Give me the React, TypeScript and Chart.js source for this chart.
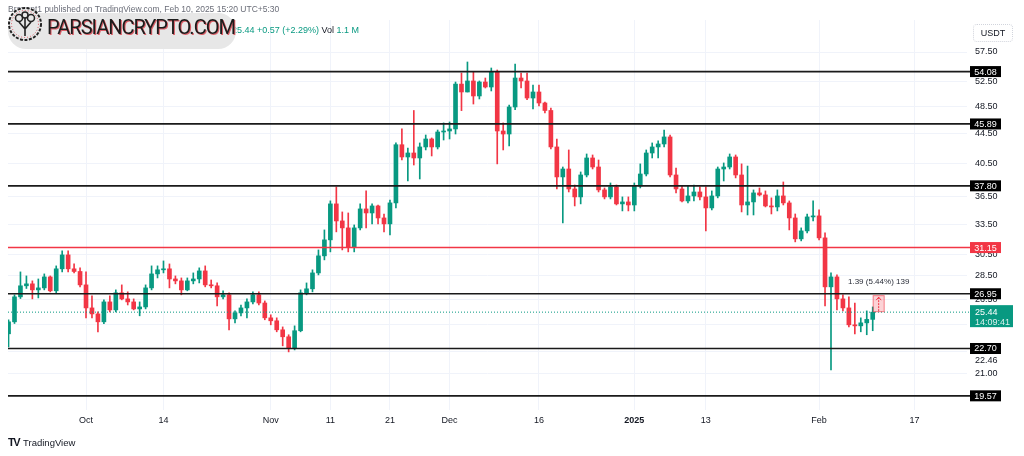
import React, { useEffect, useRef } from "react";
import { Chart, registerables } from "chart.js";

Chart.register(...registerables);

const GREEN = "#089981";
const RED = "#F23645";
const INK = "#131722";
const FONT = "'Liberation Sans', Arial, sans-serif";

// Daily AVAX/USDT candles. Day index relative to 2024-10-01; first candle is 2024-09-18.
const firstDay = -13;

const opens = [
  23.77, 24.68, 26.69, 27.63, 27.80, 27.28, 27.45, 28.41, 27.20, 29.14,
  30.44, 29.14, 28.90, 27.71, 25.78, 25.30, 24.68, 26.27, 25.62, 27.03,
  26.52, 26.27, 25.70, 25.86, 27.45, 28.68, 29.05, 29.14, 28.23, 28.06,
  27.28, 28.06, 28.23, 28.95, 27.71, 27.63, 26.69, 26.86, 24.91, 25.38,
  25.78, 26.27, 26.86, 26.18, 24.99, 24.76, 24.07, 23.55, 22.75, 24.00,
  27.03, 27.37, 28.77, 30.35, 31.91, 35.72, 33.86, 33.13, 31.21, 33.13,
  35.16, 34.72, 35.49, 34.18, 33.55, 35.83, 43.00, 41.38, 41.90, 41.25,
  42.70, 43.78, 42.70, 44.75, 44.89, 45.18, 52.00, 50.73, 52.51, 50.10,
  52.34, 51.53, 54.01, 44.89, 44.47, 48.40, 53.00, 52.51, 49.78, 50.73,
  49.01, 47.87, 42.70, 38.87, 39.85, 37.43, 36.51, 39.11, 41.25, 40.10,
  37.32, 36.51, 37.67, 35.72, 35.94, 35.60, 37.79, 39.23, 41.90, 42.70,
  43.10, 44.06, 39.11, 37.43, 36.05, 36.62, 37.08, 36.51, 35.27, 36.62,
  39.85, 40.10, 41.38, 39.11, 35.60, 35.94, 36.97, 36.74, 35.49, 35.38,
  36.62, 35.83, 34.18, 32.01, 32.82, 34.29, 34.40, 32.11, 27.54, 28.41,
  26.52, 25.78, 24.45, 24.37, 24.60, 24.87,
];

const highs = [
  24.84, 26.86, 28.86, 28.50, 28.06, 28.23, 28.68, 28.50, 29.41, 30.83,
  30.83, 29.59, 29.23, 28.86, 26.77, 25.46, 26.44, 26.77, 27.28, 27.71,
  27.11, 26.52, 26.27, 27.71, 29.41, 29.41, 29.87, 29.59, 28.50, 28.32,
  28.32, 28.77, 29.23, 29.41, 28.14, 27.88, 27.20, 27.03, 25.54, 26.02,
  26.52, 27.11, 27.11, 26.35, 25.23, 24.99, 24.29, 23.70, 24.37, 27.28,
  27.88, 29.05, 30.92, 32.92, 36.06, 37.67, 34.83, 34.72, 33.44, 35.72,
  37.20, 35.72, 35.60, 34.61, 36.16, 43.24, 45.18, 42.56, 47.87, 43.24,
  44.33, 43.92, 45.03, 46.04, 46.18, 52.34, 53.84, 55.73, 54.01, 52.51,
  53.00, 54.69, 54.35, 46.04, 48.70, 55.37, 53.84, 53.84, 51.85, 51.85,
  49.16, 48.25, 43.78, 40.10, 42.30, 37.90, 39.48, 41.77, 41.64, 40.99,
  37.55, 38.14, 37.90, 36.51, 36.51, 38.14, 40.49, 42.30, 43.24, 43.51,
  45.03, 44.33, 39.97, 37.79, 37.79, 37.90, 37.67, 37.67, 37.20, 40.10,
  40.61, 41.77, 41.64, 40.49, 40.22, 37.32, 37.55, 37.20, 36.40, 37.32,
  38.26, 36.05, 34.61, 33.13, 34.61, 36.05, 35.05, 32.62, 28.77, 28.59,
  26.86, 26.69, 26.18, 24.99, 25.54, 25.86,
];

const lows = [
  22.82, 24.55, 26.55, 27.40, 26.52, 26.60, 27.28, 27.11, 27.03, 28.86,
  28.86, 28.77, 27.54, 24.99, 24.99, 23.92, 24.53, 25.46, 25.46, 26.44,
  26.02, 25.62, 25.15, 25.70, 27.28, 28.32, 28.77, 27.45, 27.80, 26.86,
  27.20, 27.80, 27.88, 27.54, 27.45, 25.94, 26.52, 24.07, 24.60, 25.15,
  24.99, 26.10, 26.02, 24.84, 24.45, 23.92, 22.89, 22.46, 22.60, 23.92,
  26.86, 27.11, 28.59, 29.97, 30.73, 32.72, 30.92, 30.73, 30.73, 32.92,
  33.13, 33.55, 33.55, 32.72, 32.41, 35.27, 40.99, 38.38, 40.35, 38.62,
  42.30, 41.51, 42.43, 43.64, 43.78, 44.47, 47.85, 50.73, 48.85, 49.63,
  51.37, 50.89, 40.49, 42.30, 42.83, 48.01, 51.37, 49.52, 48.10, 48.55,
  47.50, 42.43, 37.43, 33.65, 37.08, 35.49, 35.72, 38.87, 39.85, 37.08,
  36.28, 36.28, 35.60, 34.94, 34.94, 34.94, 37.55, 38.99, 41.25, 41.25,
  42.70, 38.87, 36.97, 35.94, 35.83, 36.05, 36.16, 32.82, 35.05, 36.40,
  38.38, 39.85, 38.75, 34.83, 34.50, 34.50, 36.62, 35.38, 34.61, 34.94,
  35.60, 32.92, 31.71, 31.81, 32.62, 33.86, 31.91, 25.94, 21.23, 25.62,
  25.54, 24.29, 23.77, 23.92, 23.70, 24.00,
];

const closes = [
  24.68, 26.69, 27.63, 27.80, 27.28, 27.45, 28.41, 27.20, 29.14, 30.44,
  29.14, 28.90, 27.71, 25.78, 25.30, 24.68, 26.27, 25.62, 27.03, 26.52,
  26.27, 25.70, 25.86, 27.45, 28.68, 29.05, 29.14, 28.23, 28.06, 27.28,
  28.06, 28.23, 28.95, 27.71, 27.63, 26.69, 26.86, 24.91, 25.38, 25.78,
  26.27, 26.86, 26.18, 24.99, 24.76, 24.07, 23.55, 22.75, 24.00, 27.03,
  27.37, 28.77, 30.35, 31.91, 35.72, 33.86, 33.13, 31.21, 33.13, 35.16,
  34.72, 35.49, 34.18, 33.55, 35.83, 43.00, 41.38, 41.90, 41.25, 42.70,
  43.78, 42.70, 44.75, 44.89, 45.18, 52.00, 50.73, 52.51, 50.10, 52.34,
  51.53, 54.01, 44.89, 44.47, 48.40, 53.00, 52.51, 49.78, 50.73, 49.01,
  47.87, 42.70, 38.87, 39.85, 37.43, 36.51, 39.11, 41.25, 40.10, 37.32,
  36.51, 37.67, 35.72, 35.94, 35.60, 37.79, 39.23, 41.90, 42.70, 43.10,
  44.06, 39.11, 37.43, 36.05, 36.62, 37.08, 36.51, 35.27, 36.62, 39.85,
  40.10, 41.38, 39.11, 35.60, 35.94, 36.97, 36.74, 35.49, 35.38, 36.62,
  35.83, 34.18, 32.01, 32.82, 34.29, 34.40, 32.11, 27.54, 28.41, 26.52,
  25.78, 24.45, 24.37, 24.60, 24.87, 25.44,
];

const xTickDays = [0, 13, 31, 41, 51, 61, 76, 92, 104, 123, 139];
const xTickLabels = ["Oct", "14", "Nov", "11", "21", "Dec", "16", "2025", "13", "Feb", "17"];
const yTickValues = [57.5, 52.5, 48.5, 44.5, 40.5, 36.5, 33.5, 30.5, 28.5, 26.5, 24.5, 22.46, 21.0];
// TradingView pushes the 22.46 label one line down so it clears the 22.70 level tag
const yTickPushedDown = ["22.46"];
const blackLevels = [54.08, 45.89, 37.8, 26.95, 22.7, 19.57];
const redLevels = [31.15];
const lastPrice = 25.44;
const lastCountdown = "14:09:41";
const measureDays = [132, 134];
const measurePrices = [25.44, 26.83];
const measureLabel = "1.39 (5.44%) 139";
const xRange = [-13.09, 147.82];
const yRange = [18.72, 63.57];

export default function App() {
  const ref = useRef<HTMLCanvasElement>(null);

  useEffect(() => {
    const canvas = ref.current;
    if (!canvas) return;
    const days = closes.map((_, i) => firstDay + i);
    const colors = closes.map((c, i) => (c >= opens[i] ? GREEN : RED));
    const bodies = days.map((d, i) => ({ x: d, y: [Math.min(opens[i], closes[i]), Math.max(opens[i], closes[i])] }));
    const wicks = days.map((d, i) => ({ x: d, y: [lows[i], highs[i]] }));
    const labelOf: Record<number, string> = {};
    xTickDays.forEach((d, i) => (labelOf[d] = xTickLabels[i]));

    const overlay = {
      id: "overlay",
      afterDatasetsDraw(chart: any) {
        const { ctx, chartArea: a, scales } = chart;
        const x = scales.x;
        const y = scales.y;
        ctx.save();
        const hline = (v: number, color: string, w: number, dash: number[]) => {
          const p = y.getPixelForValue(v);
          ctx.beginPath();
          ctx.setLineDash(dash);
          ctx.strokeStyle = color;
          ctx.lineWidth = w;
          ctx.moveTo(a.left, p);
          ctx.lineTo(a.right + 3, p);
          ctx.stroke();
        };
        hline(lastPrice, GREEN, 1, [1, 2]);
        redLevels.forEach((v) => hline(v, RED, 1.5, []));
        blackLevels.forEach((v) => hline(v, "#1a1a1a", 1.7, []));
        ctx.setLineDash([]);

        // measure annotation
        const x1 = x.getPixelForValue(measureDays[0]);
        const x2 = x.getPixelForValue(measureDays[1]);
        const yb = y.getPixelForValue(measurePrices[0]);
        const yt = y.getPixelForValue(measurePrices[1]);
        ctx.fillStyle = "rgba(242,54,69,0.22)";
        ctx.fillRect(x1, yt, x2 - x1, yb - yt);
        ctx.strokeStyle = "rgba(242,54,69,0.55)";
        ctx.lineWidth = 1;
        ctx.strokeRect(x1 + 0.5, yt + 0.5, x2 - x1 - 1, yb - yt - 1);
        const xm = (x1 + x2) / 2;
        ctx.beginPath();
        ctx.setLineDash([2, 1]);
        ctx.strokeStyle = RED;
        ctx.moveTo(xm, yb - 1);
        ctx.lineTo(xm, yt + 2);
        ctx.stroke();
        ctx.setLineDash([]);
        ctx.beginPath();
        ctx.moveTo(xm - 2.5, yt + 5);
        ctx.lineTo(xm, yt + 2);
        ctx.lineTo(xm + 2.5, yt + 5);
        ctx.stroke();
        ctx.fillStyle = "#2a2e39";
        ctx.font = `8px ${FONT}`;
        ctx.textAlign = "center";
        ctx.textBaseline = "middle";
        ctx.fillText(measureLabel, xm, yt - 13);
        ctx.restore();
      },
      afterDraw(chart: any) {
        const { ctx, chartArea: a, scales } = chart;
        const y = scales.y;
        ctx.save();
        ctx.font = `9px ${FONT}`;
        ctx.textAlign = "center";
        ctx.textBaseline = "middle";
        const box = (v: number, bg: string) => {
          const p = y.getPixelForValue(v);
          ctx.fillStyle = bg;
          ctx.fillRect(a.right + 3, p - 5.5, 31, 11);
          ctx.fillStyle = "#ffffff";
          ctx.fillText(v.toFixed(2), a.right + 18.5, p + 0.5);
        };
        blackLevels.forEach((v) => box(v, "#000000"));
        redLevels.forEach((v) => box(v, RED));
        const lp = y.getPixelForValue(lastPrice);
        ctx.fillStyle = GREEN;
        ctx.fillRect(a.right + 3, lp - 7, 43, 22);
        ctx.fillStyle = "#ffffff";
        ctx.textAlign = "left";
        ctx.fillText(lastPrice.toFixed(2), a.right + 8, lp + 0.5);
        ctx.fillStyle = "rgba(255,255,255,0.85)";
        ctx.fillText(lastCountdown, a.right + 8, lp + 10.5);
        ctx.restore();
      },
    };

    const chart = new Chart(canvas, {
      type: "bar",
      data: {
        datasets: [
          {
            data: bodies as any,
            backgroundColor: colors,
            barThickness: 4,
            minBarLength: 1,
            grouped: false,
            borderWidth: 0,
          } as any,
          {
            data: wicks as any,
            backgroundColor: colors,
            barThickness: 1,
            grouped: false,
            borderWidth: 0,
          } as any,
        ],
      },
      options: {
        animation: false,
        responsive: false,
        maintainAspectRatio: false,
        devicePixelRatio: 1,
        layout: { padding: { left: 8, right: 0, top: 20, bottom: 26 } },
        plugins: { legend: { display: false }, tooltip: { enabled: false } },
        scales: {
          x: {
            type: "linear",
            position: "bottom",
            min: xRange[0],
            max: xRange[1],
            offset: false,
            grid: { color: "#f0f3fa", drawTicks: false, offset: false },
            border: { display: false },
            afterBuildTicks: (s: any) => {
              s.ticks = xTickDays.map((v) => ({ value: v }));
            },
            afterFit: (s: any) => {
              s.height = 20;
            },
            ticks: {
              autoSkip: false,
              maxRotation: 0,
              padding: 5,
              color: INK,
              font: (c: any) => ({
                family: FONT,
                size: 9,
                weight: c.tick && labelOf[c.tick.value] === "2025" ? "bold" : "normal",
              }),
              callback: (v: any) => labelOf[v] ?? "",
            },
          },
          y: {
            type: "logarithmic",
            position: "right",
            min: yRange[0],
            max: yRange[1],
            grid: { color: "#f0f3fa", drawTicks: false },
            border: { display: false },
            afterBuildTicks: (s: any) => {
              s.ticks = yTickValues.map((v) => ({ value: v, major: false }));
            },
            afterFit: (s: any) => {
              s.width = 57;
            },
            ticks: {
              autoSkip: false,
              major: { enabled: false },
              padding: 8,
              color: INK,
              font: { family: FONT, size: 9, lineHeight: 1 },
              callback: (v: any, i: number) => {
                const t = yTickValues[i].toFixed(2);
                return yTickPushedDown.includes(t) ? ["", "", t] : t;
              },
            },
          },
        },
      } as any,
      plugins: [overlay],
    });
    return () => chart.destroy();
  }, []);

  return (
    <div style={{ position: "fixed", left: 0, top: 0, width: 1024, height: 456, background: "#ffffff", overflow: "hidden", fontFamily: FONT }}>
      <canvas ref={ref} width={1024} height={456} style={{ position: "absolute", left: 0, top: 0, width: 1024, height: 456 }} />
      <div style={{ position: "absolute", left: 8, top: 4, fontSize: 8.5, color: "#6a6d78", whiteSpace: "nowrap" }}>
        Bravent1 published on TradingView.com, Feb 10, 2025 15:20 UTC+5:30
      </div>
      <div style={{ position: "absolute", left: 232, top: 25, fontSize: 9, color: GREEN, whiteSpace: "nowrap" }}>
        25.44 +0.57 (+2.29%) <span style={{ color: INK }}>Vol</span> 1.1 M
      </div>
      <div style={{ position: "absolute", left: 8, top: 13, width: 228, height: 36, borderRadius: 18, background: "#e7e7e7" }} />
      <svg style={{ position: "absolute", left: 6, top: 5 }} width={38} height={38} viewBox="0 0 38 38">
        <circle cx={19} cy={19} r={16} fill="#e7e7e7" stroke="#222" strokeWidth={2} strokeDasharray="3 1.5" />
        <circle cx={19} cy={19} r={13.5} fill="none" stroke="#d4303c" strokeWidth={0.8} strokeDasharray="1 2" />
        <circle cx={13} cy={13} r={3.5} fill="none" stroke="#222" strokeWidth={1.5} />
        <circle cx={25} cy={13} r={3.5} fill="none" stroke="#222" strokeWidth={1.5} />
        <circle cx={19} cy={10} r={3} fill="none" stroke="#222" strokeWidth={1.5} />
        <path d="M19 13 L19 31 M13 17 L19 24 M25 17 L19 24" stroke="#222" strokeWidth={1.6} fill="none" />
      </svg>
      <div
        style={{
          position: "absolute",
          left: 47,
          top: 15,
          fontFamily: "Roboto, 'Liberation Sans', sans-serif",
          fontSize: 20,
          letterSpacing: -1,
          color: "#1c1c1c",
          lineHeight: "24px",
          whiteSpace: "nowrap",
          textShadow: "1px 1px 0 rgba(214,48,60,0.75)",
        }}
      >
        PARSIANCRYPTO.COM
      </div>
      <div
        style={{
          position: "absolute",
          left: 973,
          top: 24,
          width: 38,
          height: 16,
          border: "1px dotted #d1d4dc",
          borderRadius: 4,
          fontSize: 9,
          color: INK,
          textAlign: "center",
          lineHeight: "16px",
        }}
      >
        USDT
      </div>
      <div style={{ position: "absolute", left: 8, top: 436, fontSize: 9.5, color: INK, whiteSpace: "nowrap", display: "flex", alignItems: "center" }}>
        <span style={{ fontWeight: 900, fontSize: 11, letterSpacing: -1.5, marginRight: 4 }}>TV</span>
        <span>TradingView</span>
      </div>
    </div>
  );
}
